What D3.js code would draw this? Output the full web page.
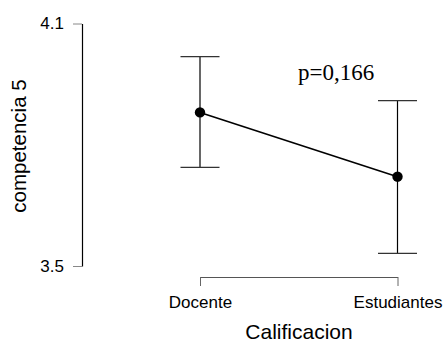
<!DOCTYPE html>
<html lang="en">
	<head>
		<meta charset="utf-8">
		<title>competencia 5 by Calificacion</title>
		<script src="https://d3js.org/d3.v7.min.js"></script>
		<style type="text/css">
			body { margin: 0; background: #fff; }
			text { font-family: Arial, "Liberation Sans", sans-serif; }
		</style>
	</head>
	<body>
		<script type="text/javascript">
			//Width and height
			var w = 447;
			var h = 343;

			//Data
			var groups = ["Docente", "Estudiantes"];
			var means = [3.880, 3.721];
			var lower = [3.744, 3.531];
			var upper = [4.018, 3.909];
			var yTicks = [3.5, 4.1];
			var pText = "p=0,166";

			var data = groups.map(function(g, i) {
				return { group: g, mean: means[i], lo: lower[i], hi: upper[i] };
			});

			var x = d3.scalePoint()
				.domain(groups)
				.range([200, 397.5]);

			var y = d3.scaleLinear()
				.domain([3.5, 4.1])
				.range([266, 23.5]);

			var svg = d3.select("body")
				.append("svg")
				.attr("width", w)
				.attr("height", h);

			//Y axis
			var yAxis = svg.append("g")
				.attr("transform", "translate(82,0)")
				.call(d3.axisLeft(y).tickValues(yTicks).tickSize(9).tickSizeOuter(0).tickPadding(9).tickFormat(d3.format(".1f")));
			yAxis.select(".domain").attr("stroke", "#000").attr("stroke-width", 1.2);
			yAxis.selectAll(".tick line").attr("stroke", "#888");
			yAxis.selectAll(".tick text")
				.attr("font-size", 17)
				.attr("font-family", "Arial, 'Liberation Sans', sans-serif")
				.attr("fill", "#000");

			//X axis
			var xAxis = svg.append("g")
				.attr("transform", "translate(0,277)")
				.call(d3.axisBottom(x).tickSize(9).tickSizeOuter(0).tickPadding(10));
			xAxis.select(".domain").attr("stroke", "#555").attr("stroke-width", 1.2);
			xAxis.selectAll(".tick line").attr("stroke", "#666");
			xAxis.selectAll(".tick text")
				.attr("font-size", 17)
				.attr("font-family", "Arial, 'Liberation Sans', sans-serif")
				.attr("fill", "#000");

			//Axis titles
			svg.append("text")
				.attr("x", 299)
				.attr("y", 339)
				.attr("text-anchor", "middle")
				.attr("font-size", 21)
				.text("Calificacion");

			svg.append("text")
				.attr("transform", "translate(26,146) rotate(-90)")
				.attr("text-anchor", "middle")
				.attr("font-size", 20.5)
				.text("competencia 5");

			//Error bars
			var bars = svg.selectAll("g.bar")
				.data(data)
				.enter()
				.append("g")
				.attr("class", "bar");

			bars.append("line")
				.attr("x1", function(d) { return x(d.group); })
				.attr("x2", function(d) { return x(d.group); })
				.attr("y1", function(d) { return y(d.hi); })
				.attr("y2", function(d) { return y(d.lo); })
				.attr("stroke", "#000")
				.attr("stroke-width", 1.2);

			bars.selectAll("line.cap")
				.data(function(d) { return [d.hi, d.lo].map(function(v) { return { g: d.group, v: v }; }); })
				.enter()
				.append("line")
				.attr("class", "cap")
				.attr("x1", function(d) { return x(d.g) - 19.5; })
				.attr("x2", function(d) { return x(d.g) + 19.5; })
				.attr("y1", function(d) { return y(d.v); })
				.attr("y2", function(d) { return y(d.v); })
				.attr("stroke", "#333")
				.attr("stroke-width", 1.2);

			//Line between means
			svg.append("path")
				.datum(data)
				.attr("d", d3.line()
					.x(function(d) { return x(d.group); })
					.y(function(d) { return y(d.mean); }))
				.attr("fill", "none")
				.attr("stroke", "#000")
				.attr("stroke-width", 1.6);

			svg.selectAll("circle")
				.data(data)
				.enter()
				.append("circle")
				.attr("cx", function(d) { return x(d.group); })
				.attr("cy", function(d) { return y(d.mean); })
				.attr("r", 5.2)
				.attr("fill", "#000");

			//p value
			svg.append("text")
				.attr("x", 298)
				.attr("y", 80)
				.attr("font-size", 23)
				.style("font-family", "'Times New Roman', 'Liberation Serif', serif")
				.text(pText);
		</script>
	</body>
</html>
